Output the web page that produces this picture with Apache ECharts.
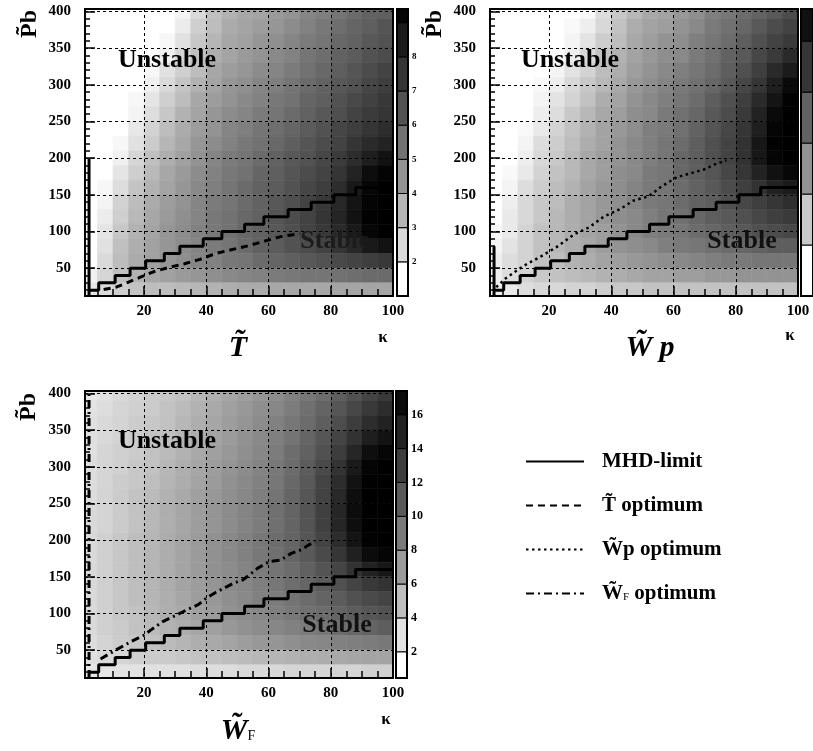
<!DOCTYPE html>
<html>
<head>
<meta charset="utf-8">
<script src="https://cdn.jsdelivr.net/npm/echarts@6/dist/echarts.min.js"></script>
<style>
html,body{margin:0;padding:0;background:#fff}
#c{width:813px;height:751px}
</style>
</head>
<body>
<div id="c"></div>
<script>
// κ bin edges shared by the three maps
const kappaEdges = [1,5,10,15,20,25,30,35,40,45,50,55,60,65,70,75,80,85,90,95,100];
// P̃b row centres, top row first (each row 20 wide)
const pbRows = [400,380,360,340,320,300,280,260,240,220,200,180,160,140,120,100,80,60,40,20];

// T̃ map (0 = no stable solution, drawn blank)
const tMap = [
 [0,0,0,0,0,0,1.3,2.0,2.7,3.1,3.4,3.5,3.8,4.0,4.4,4.6,4.9,5.2,5.5,5.6],
 [0,0,0,0,0,0,1.5,2.3,2.8,3.3,3.5,3.7,3.9,4.2,4.5,4.8,5.1,5.4,5.6,5.9],
 [0,0,0,0,0,1.2,1.8,2.5,3.0,3.4,3.6,3.9,4.1,4.4,4.7,4.9,5.3,5.5,5.8,6.0],
 [0,0,0,0,0,1.4,2.1,2.7,3.2,3.5,3.8,4.0,4.3,4.5,4.9,5.1,5.5,5.7,6.0,6.2],
 [0,0,0,0,1.2,1.8,2.3,2.8,3.4,3.7,3.9,4.2,4.4,4.7,5.0,5.3,5.6,5.9,6.2,6.5],
 [0,0,0,0,1.4,2.0,2.6,3.1,3.5,3.9,4.1,4.4,4.6,4.9,5.2,5.5,5.8,6.0,6.4,6.7],
 [0,0,0,1.2,1.7,2.3,2.8,3.4,3.7,4.0,4.3,4.5,4.8,5.0,5.4,5.6,6.0,6.3,6.6,6.9],
 [0,0,0,1.3,1.9,2.5,3.1,3.5,3.9,4.2,4.4,4.7,4.9,5.2,5.5,5.8,6.1,6.5,6.8,7.0],
 [0,0,0,1.6,2.2,2.8,3.3,3.7,4.0,4.4,4.6,4.9,5.1,5.4,5.7,6.0,6.4,6.7,7.0,7.3],
 [0,0,1.2,1.8,2.4,3.0,3.4,3.9,4.2,4.5,4.8,5.0,5.3,5.6,5.9,6.2,6.5,7.0,7.4,7.7],
 [0,0,1.4,2.1,2.7,3.2,3.6,4.0,4.4,4.7,4.9,5.2,5.5,5.8,6.0,6.4,6.8,7.3,7.9,8.4],
 [0,0,1.7,2.3,2.9,3.4,3.8,4.2,4.5,4.8,5.0,5.4,5.6,5.9,6.2,6.5,7.0,7.7,8.6,9.1],
 [0,1.2,1.9,2.6,3.1,3.5,3.9,4.3,4.6,4.9,5.2,5.5,5.7,6.0,6.4,6.7,7.3,8.1,9.0,9.4],
 [0,1.3,2.2,2.8,3.3,3.7,4.0,4.4,4.7,4.9,5.2,5.5,5.8,6.1,6.5,6.9,7.5,8.3,9.1,9.4],
 [0,1.5,2.3,2.9,3.4,3.8,4.1,4.4,4.8,5.0,5.3,5.5,5.9,6.2,6.5,7.0,7.6,8.4,9.2,9.4],
 [0,1.7,2.5,3.1,3.5,3.9,4.2,4.5,4.8,5.0,5.3,5.5,5.8,6.1,6.5,6.9,7.4,8.1,9.0,9.4],
 [0,1.8,2.7,3.2,3.6,3.9,4.2,4.4,4.7,4.9,5.2,5.5,5.7,6.0,6.2,6.5,7.0,7.5,8.1,8.4],
 [0,2.0,2.8,3.3,3.6,3.9,4.1,4.4,4.5,4.8,4.9,5.2,5.4,5.6,5.8,6.0,6.3,6.5,6.7,6.9],
 [1.4,2.1,2.7,3.1,3.4,3.6,3.8,3.9,4.1,4.3,4.4,4.5,4.7,4.8,4.9,4.9,5.0,5.1,5.2,5.2],
 [1.7,2.0,2.3,2.6,2.8,2.8,2.9,3.0,3.1,3.2,3.3,3.3,3.4,3.4,3.4,3.4,3.5,3.5,3.5,3.5]
];

// W̃p map
const wpMap = [
 [0,0,0,0,0,0,0.1,0.6,1.0,1.3,1.6,1.7,1.9,2.1,2.4,2.6,2.8,3.0,3.2,3.5],
 [0,0,0,0,0,0.1,0.3,0.7,1.1,1.5,1.7,1.8,2.0,2.2,2.5,2.7,2.9,3.2,3.5,3.7],
 [0,0,0,0,0,0.2,0.5,0.9,1.2,1.6,1.8,2.0,2.1,2.4,2.6,2.8,3.1,3.4,3.7,3.9],
 [0,0,0,0,0.1,0.3,0.7,1.1,1.4,1.7,1.9,2.1,2.2,2.5,2.7,3.0,3.2,3.6,3.9,4.3],
 [0,0,0,0,0.2,0.5,0.8,1.2,1.5,1.8,2.0,2.2,2.4,2.6,2.8,3.1,3.4,3.8,4.3,4.7],
 [0,0,0,0.1,0.3,0.7,1.0,1.3,1.6,1.9,2.1,2.3,2.5,2.7,2.9,3.2,3.6,4.0,4.6,5.2],
 [0,0,0,0.2,0.5,0.8,1.1,1.5,1.7,2.0,2.2,2.4,2.6,2.8,3.1,3.4,3.8,4.3,4.9,5.5],
 [0,0,0,0.3,0.6,1.0,1.3,1.6,1.8,2.1,2.2,2.5,2.7,2.9,3.2,3.5,3.9,4.5,5.2,5.6],
 [0,0,0.1,0.4,0.8,1.1,1.4,1.7,1.9,2.1,2.4,2.5,2.7,3.0,3.3,3.6,4.0,4.6,5.4,5.6],
 [0,0,0.2,0.6,0.9,1.2,1.5,1.7,2.0,2.2,2.4,2.6,2.8,3.1,3.4,3.7,4.1,4.8,5.5,5.6],
 [0,0,0.3,0.7,1.0,1.3,1.6,1.8,2.0,2.2,2.4,2.6,2.9,3.1,3.4,3.7,4.1,4.8,5.4,5.6],
 [0,0.1,0.4,0.8,1.1,1.3,1.6,1.8,2.1,2.2,2.5,2.6,2.9,3.1,3.3,3.6,4.0,4.5,5.0,5.3],
 [0,0.2,0.6,0.9,1.2,1.4,1.7,1.9,2.1,2.3,2.5,2.6,2.8,3.0,3.2,3.5,3.8,4.1,4.5,4.7],
 [0,0.3,0.7,1.0,1.2,1.5,1.7,1.9,2.1,2.3,2.5,2.6,2.8,3.0,3.1,3.4,3.6,3.8,4.0,4.2],
 [0,0.4,0.7,1.0,1.3,1.5,1.7,1.9,2.1,2.2,2.4,2.6,2.7,2.9,3.1,3.2,3.4,3.6,3.8,3.9],
 [0.1,0.4,0.8,1.1,1.3,1.5,1.7,1.8,2.0,2.2,2.4,2.5,2.6,2.8,2.9,3.1,3.2,3.4,3.5,3.6],
 [0.2,0.5,0.8,1.1,1.3,1.5,1.6,1.8,2.0,2.1,2.2,2.4,2.5,2.6,2.7,2.8,2.9,3.0,3.1,3.1],
 [0.3,0.6,0.8,1.1,1.2,1.4,1.5,1.7,1.8,1.9,2.0,2.1,2.2,2.3,2.4,2.5,2.5,2.6,2.6,2.6],
 [0.3,0.6,0.8,1.0,1.1,1.2,1.3,1.4,1.5,1.6,1.7,1.7,1.8,1.8,1.9,1.9,2.0,2.0,2.0,2.0],
 [0.3,0.4,0.6,0.7,0.7,0.8,0.8,0.9,1.0,1.0,1.1,1.1,1.1,1.1,1.1,1.1,1.1,1.1,1.1,1.1]
];

// W̃F map
const wfMap = [
 [1.8,2.1,2.5,2.8,3.2,3.5,3.8,4.4,4.9,5.4,5.9,6.4,6.9,7.6,8.2,8.9,9.8,10.6,11.5,12.3],
 [2.0,2.3,2.7,3.0,3.3,3.7,4.2,4.7,5.2,5.7,6.2,6.7,7.2,7.9,8.6,9.4,10.3,11.3,12.3,13.2],
 [2.1,2.5,2.8,3.2,3.5,3.8,4.4,4.9,5.4,5.9,6.4,6.9,7.6,8.2,8.9,9.8,10.8,12.0,13.2,14.0],
 [2.1,2.5,2.8,3.2,3.7,4.0,4.5,5.0,5.5,6.0,6.6,7.1,7.7,8.4,9.3,10.3,11.5,12.8,14.3,15.4],
 [2.1,2.7,3.0,3.3,3.8,4.2,4.7,5.2,5.7,6.2,6.7,7.2,7.9,8.8,9.6,10.6,12.0,13.7,15.7,16.5],
 [2.3,2.7,3.0,3.5,3.8,4.4,4.9,5.4,5.9,6.4,6.9,7.4,8.1,8.9,9.9,11.1,12.7,14.7,16.7,17.4],
 [2.3,2.7,3.2,3.5,4.0,4.5,5.0,5.5,6.0,6.6,7.1,7.6,8.2,9.1,10.1,11.5,13.2,15.4,17.2,17.4],
 [2.3,2.8,3.2,3.7,4.2,4.7,5.2,5.7,6.2,6.7,7.2,7.7,8.4,9.3,10.3,11.6,13.5,15.7,17.4,17.4],
 [2.5,2.8,3.3,3.8,4.4,4.9,5.4,5.9,6.4,6.9,7.4,7.9,8.6,9.4,10.4,11.8,13.7,15.9,17.4,17.4],
 [2.5,2.8,3.3,3.8,4.4,4.9,5.4,5.9,6.4,6.9,7.4,7.9,8.6,9.4,10.4,11.8,13.7,15.7,17.4,17.4],
 [2.5,3.0,3.5,4.0,4.5,5.0,5.5,6.0,6.6,7.1,7.6,8.1,8.8,9.4,10.3,11.5,13.2,15.2,17.1,17.4],
 [2.5,3.0,3.5,4.0,4.5,5.0,5.5,6.0,6.6,7.1,7.6,8.1,8.6,9.3,10.1,11.1,12.5,14.2,16.0,16.7],
 [2.5,3.0,3.5,4.0,4.5,5.0,5.5,6.0,6.6,6.9,7.4,7.9,8.4,8.9,9.6,10.4,11.5,12.8,14.0,14.9],
 [2.5,3.0,3.5,4.0,4.5,5.0,5.5,5.9,6.4,6.9,7.2,7.7,8.2,8.8,9.3,9.9,10.6,11.5,12.3,12.7],
 [2.5,3.0,3.5,4.0,4.5,4.9,5.4,5.9,6.2,6.7,7.1,7.6,7.9,8.4,8.9,9.4,9.9,10.6,11.1,11.5],
 [2.5,3.0,3.5,3.8,4.4,4.9,5.2,5.7,6.0,6.6,6.9,7.2,7.7,8.1,8.6,8.9,9.4,9.9,10.3,10.6],
 [2.5,3.0,3.3,3.8,4.2,4.7,5.0,5.4,5.7,6.2,6.6,6.9,7.2,7.6,7.9,8.2,8.8,9.1,9.4,9.8],
 [2.3,2.8,3.2,3.5,3.8,4.2,4.5,4.9,5.2,5.5,5.9,6.2,6.4,6.7,7.1,7.2,7.6,7.7,7.9,8.1],
 [2.1,2.5,2.7,3.0,3.2,3.3,3.5,3.7,3.8,4.0,4.2,4.4,4.5,4.7,4.9,5.0,5.2,5.4,5.5,5.5],
 [1.8,1.8,2.0,2.0,2.1,2.1,2.1,2.3,2.3,2.3,2.5,2.5,2.5,2.7,2.7,2.7,2.8,2.8,3.0,3.0]
];

// MHD stability limit (step line, same in every panel)
const mhdKappa = [2.5,5.4,10.7,15.5,20.5,26.5,31.5,39,45,52.3,58.5,66.3,73.7,81,88,100];
const mhdPb    = [20,30,40,50,60,70,80,90,100,110,120,130,140,150,160,160];

// optimum curves
const tOptKappa  = [7,11,15,19,23,28,33,38,43,48,53,58,64,70];
const tOptPb     = [21,24,31,38,45,51,56,62,70,75,80,86,93,97];
const wpOptKappa = [3,6,10,13,17,22.5,28,33,37.5,43,47,52,56,61,66,70,74,77];
const wpOptPb    = [24,36,48,56,65,79,96,106,120,131,142,148,161,174,180,185,193,197];
const wfOptKappa = [6,10,15.5,19.8,22,26,30,33.7,37.4,40,42.7,48.6,51.8,56.6,60.3,64,67.3,70.5,73.1,75];
const wfOptPb    = [38,48,61,70,77,89,97,105,112,121,128,141,146,162,171,173,182,187,194,198];

// optimum traced along the κ lower edge, upper end per panel
const edgeKappa = 2.3;
const edgeTopPb = [200, 80, 403.5];

// colour-scale levels and labels
const tLevels  = [1,2,3,4,5,6,7,8,9];
const wpLevels = [0,1,2,3,4,5];
const wfLevels = [0.45,2,4,6,8,10,12,14,16];
const tScaleLabels  = [2,3,4,5,6,7,8];
const wfScaleLabels = [2,4,6,8,10,12,14,16];

// axis ticks and labels
const kappaMajor = [20,40,60,80,100];
const kappaMinor = [5,10,15,25,30,35,45,50,55,65,70,75,85,90,95];
const pbMajor = [50,100,150,200,250,300,350,400];
const pbMinor = [20,30,40,60,70,80,90,110,120,130,140,160,170,180,190,210,220,230,240,260,270,280,290,310,320,330,340,360,370,380,390];

const SERIF = '"Liberation Serif", "Times New Roman", serif';
const K_MIN = 1, K_MAX = 100, PB_MIN = 12, PB_MAX = 403.5;

// grey shade of the dithered print: white at the scale minimum, black at its maximum
function grayOf(z, vmin, vmax) {
  let d = (z - vmin) / (vmax - vmin);
  d = Math.max(0, Math.min(1, d));
  const v = Math.round(255 * Math.pow(1 - d, 1.25));
  return 'rgb(' + v + ',' + v + ',' + v + ')';
}

function cellsOf(map) {
  const half = (pbRows[0] - pbRows[1]) / 2;
  const out = [];
  pbRows.forEach(function (pb, r) {
    for (let c = 0; c < kappaEdges.length - 1; c++) {
      out.push([kappaEdges[c], kappaEdges[c + 1], pb - half, pb + half, map[r][c]]);
    }
  });
  return out;
}

const dashed  = {color: '#000', width: 3, type: [7, 5]};
const dotted  = {color: '#000', width: 2.5, type: [2.5, 3.5]};
const dashDot = {color: '#000', width: 3, type: [8, 4, 2, 4]};
const solid   = {color: '#000', width: 3, type: 'solid'};

const panels = [
  {map: tMap,  vmin: 1,    vmax: 9.4,  levels: tLevels,  scaleLabels: tScaleLabels,  labelSize: 9,
   optName: 'T\u0303 optimum',  optK: tOptKappa,  optP: tOptPb,  optStyle: dashed,  edgeStyle: solid},
  {map: wpMap, vmin: 0,    vmax: 5.63, levels: wpLevels, scaleLabels: [],            labelSize: 9,
   optName: 'W\u0303p optimum', optK: wpOptKappa, optP: wpOptPb, optStyle: dotted,  edgeStyle: solid},
  {map: wfMap, vmin: 0.45, vmax: 17.4, levels: wfLevels, scaleLabels: wfScaleLabels, labelSize: 12,
   optName: 'W\u0303F optimum', optK: wfOptKappa, optP: wfOptPb, optStyle: dashDot, edgeStyle: dashDot}
];

const plotBoxes  = [{left: 85, top: 9}, {left: 490, top: 9}, {left: 85, top: 391}];
const scaleBoxes = [{left: 397, top: 9, width: 11}, {left: 801, top: 9, width: 12}, {left: 396, top: 391, width: 11}];
const PLOT_W = 308, PLOT_H = 287;

const grid = [], xAxis = [], yAxis = [], series = [];
const tickStyle = {color: '#000', width: 1.5};
const gridLine = {show: true, lineStyle: {color: '#000', width: 1, type: [3, 3]}};
const tickFont = {fontFamily: SERIF, fontWeight: 'bold', fontSize: 15, color: '#000'};

panels.forEach(function (p, i) {
  grid.push({left: plotBoxes[i].left, top: plotBoxes[i].top, width: PLOT_W, height: PLOT_H,
    show: true, borderColor: '#000', borderWidth: 2, backgroundColor: 'transparent', z: 10});
  // main κ axis: labels, long ticks and grid lines
  xAxis.push({
    type: 'value', gridIndex: i, min: K_MIN, max: K_MAX, splitNumber: 5, position: 'bottom', z: 8,
    axisLine: {show: false},
    axisTick: {show: true, inside: true, length: 10, customValues: kappaMajor, lineStyle: tickStyle},
    axisLabel: Object.assign({show: true, customValues: kappaMajor, margin: 8}, tickFont),
    splitLine: gridLine
  });
  // short κ ticks
  xAxis.push({
    type: 'value', gridIndex: i, min: K_MIN, max: K_MAX, position: 'bottom', offset: 0, z: 8,
    axisLine: {show: false},
    axisTick: {show: true, inside: true, length: 7, customValues: kappaMinor, lineStyle: tickStyle},
    axisLabel: {show: false}, splitLine: {show: false}
  });
  yAxis.push({
    type: 'value', gridIndex: i, min: PB_MIN, max: PB_MAX, splitNumber: 8, position: 'left', z: 8,
    axisLine: {show: false},
    axisTick: {show: true, inside: true, length: 10, customValues: pbMajor, lineStyle: tickStyle},
    axisLabel: Object.assign({show: true, customValues: pbMajor, margin: 14}, tickFont),
    splitLine: gridLine
  });
  yAxis.push({
    type: 'value', gridIndex: i, min: PB_MIN, max: PB_MAX, position: 'left', offset: 0, z: 8,
    axisLine: {show: false},
    axisTick: {show: true, inside: true, length: 5, customValues: pbMinor, lineStyle: tickStyle},
    axisLabel: {show: false}, splitLine: {show: false}
  });
});

panels.forEach(function (p, i) {
  const ax = 2 * i;
  series.push({
    type: 'custom', name: 'map' + i, xAxisIndex: ax, yAxisIndex: ax, clip: true, z: 2, silent: true,
    encode: {x: [0, 1], y: [2, 3]},
    data: cellsOf(p.map),
    renderItem: function (params, api) {
      const z = api.value(4);
      if (!(z > 0)) return null;
      const a = api.coord([api.value(0), api.value(3)]);
      const b = api.coord([api.value(1), api.value(2)]);
      const col = grayOf(z, p.vmin, p.vmax);
      return {type: 'rect', shape: {x: a[0], y: a[1], width: b[0] - a[0], height: b[1] - a[1]},
        style: {fill: col, stroke: col, lineWidth: 0.6}};
    }
  });
  series.push({
    type: 'line', name: 'MHD-limit', xAxisIndex: ax, yAxisIndex: ax, step: 'end', symbol: 'none', z: 6,
    data: mhdKappa.map(function (k, j) { return [k, mhdPb[j]]; }),
    lineStyle: solid, itemStyle: {color: '#000'}
  });
  series.push({
    type: 'line', name: p.optName, xAxisIndex: ax, yAxisIndex: ax, symbol: 'none', z: 6,
    data: p.optK.map(function (k, j) { return [k, p.optP[j]]; }),
    lineStyle: p.optStyle, itemStyle: {color: '#000'}
  });
  series.push({
    type: 'line', name: 'edge' + i, xAxisIndex: ax, yAxisIndex: ax, symbol: 'none', z: 6,
    data: [[edgeKappa, PB_MIN], [edgeKappa, edgeTopPb[i]]],
    lineStyle: p.edgeStyle, itemStyle: {color: '#000'}
  });
});

// colour scales
panels.forEach(function (p, i) {
  const gi = 3 + i, ax = 6 + i;
  grid.push({left: scaleBoxes[i].left, top: scaleBoxes[i].top, width: scaleBoxes[i].width, height: PLOT_H,
    show: true, borderColor: '#000', borderWidth: 2, backgroundColor: 'transparent', z: 10});
  xAxis.push({type: 'value', gridIndex: gi, min: 0, max: 1, show: false});
  yAxis.push({
    type: 'value', gridIndex: gi, min: p.vmin, max: p.vmax, position: 'right',
    axisLine: {show: false}, axisTick: {show: false}, splitLine: {show: false},
    axisLabel: {show: p.scaleLabels.length > 0, customValues: p.scaleLabels, margin: 4,
      fontFamily: SERIF, fontWeight: 'bold', fontSize: p.labelSize, color: '#000'}
  });
  series.push({
    type: 'custom', name: 'scale' + i, xAxisIndex: ax, yAxisIndex: ax, clip: true, z: 2, silent: true,
    encode: {y: [0, 1]},
    data: p.levels.map(function (lo, j) {
      return [lo, j + 1 < p.levels.length ? p.levels[j + 1] : p.vmax];
    }),
    renderItem: function (params, api) {
      const lo = api.value(0), hi = api.value(1);
      const a = api.coord([0, hi]);
      const b = api.coord([1, lo]);
      return {type: 'rect', shape: {x: a[0], y: a[1], width: b[0] - a[0], height: b[1] - a[1]},
        style: {fill: grayOf(lo, p.vmin, p.vmax), stroke: '#000', lineWidth: 1}};
    }
  });
});

function txt(x, y, text, font, extra) {
  return {type: 'text', x: x, y: y, z: 20, silent: true,
    style: Object.assign({text: text, font: font, fill: '#000', textAlign: 'center', textVerticalAlign: 'middle'}, extra || {})};
}
const BOLD = function (s) { return 'bold ' + s + 'px ' + SERIF; };
const BOLDIT = function (s) { return 'italic bold ' + s + 'px ' + SERIF; };

const graphic = [
  // region names
  txt(167, 60, 'Unstable', BOLD(26)),
  txt(570, 60, 'Unstable', BOLD(26)),
  txt(167, 441, 'Unstable', BOLD(26)),
  txt(335, 241, 'Stable', BOLD(26), {fill: '#1c1c1c'}),
  txt(742, 241, 'Stable', BOLD(26), {fill: '#111'}),
  txt(337, 625, 'Stable', BOLD(26), {fill: '#111'}),
  // vertical axis titles
  Object.assign(txt(30, 24, 'P\u0303b', BOLD(24)), {rotation: Math.PI / 2}),
  Object.assign(txt(435, 24, 'P\u0303b', BOLD(24)), {rotation: Math.PI / 2}),
  Object.assign(txt(29, 407, 'P\u0303b', BOLD(24)), {rotation: Math.PI / 2}),
  // κ labels
  txt(383, 338, '\u03ba', BOLD(17)),
  txt(790, 336, '\u03ba', BOLD(17)),
  txt(386, 720, '\u03ba', BOLD(17)),
  // horizontal titles
  txt(238, 348, 'T\u0303', BOLDIT(30)),
  txt(650, 348, '{w|W\u0303} {p|p}', BOLDIT(30), {rich: {w: {font: BOLDIT(30)}, p: {font: BOLDIT(30)}}}),
  txt(238, 731, '{w|W\u0303}{f|F}', BOLDIT(30), {rich: {w: {font: BOLDIT(30)}, f: {font: '14px ' + SERIF, padding: [10, 0, 0, 0]}}})
];

const legendRich = {
  sp: {width: 13},
  b: {fontFamily: SERIF, fontWeight: 'bold', fontSize: 21, color: '#000'},
  sub: {fontFamily: SERIF, fontSize: 11, color: '#000', padding: [8, 0, 0, 0]}
};

const option = {
  backgroundColor: '#fff',
  animation: false,
  grid: grid, xAxis: xAxis, yAxis: yAxis, series: series, graphic: graphic,
  legend: {
    left: 520, top: 446, orient: 'vertical', itemWidth: 58, itemHeight: 14, itemGap: 23,
    selectedMode: false,
    itemStyle: {opacity: 0},
    data: ['MHD-limit', 'T\u0303 optimum', 'W\u0303p optimum', 'W\u0303F optimum'],
    formatter: function (name) {
      if (name === 'W\u0303F optimum') return '{sp| }{b|W\u0303}{sub|F}{b| optimum}';
      return '{sp| }{b|' + name + '}';
    },
    textStyle: {rich: legendRich}
  }
};

const chart = echarts.init(document.getElementById('c'), null, {renderer: 'canvas'});
chart.setOption(option);
</script>
</body>
</html>
